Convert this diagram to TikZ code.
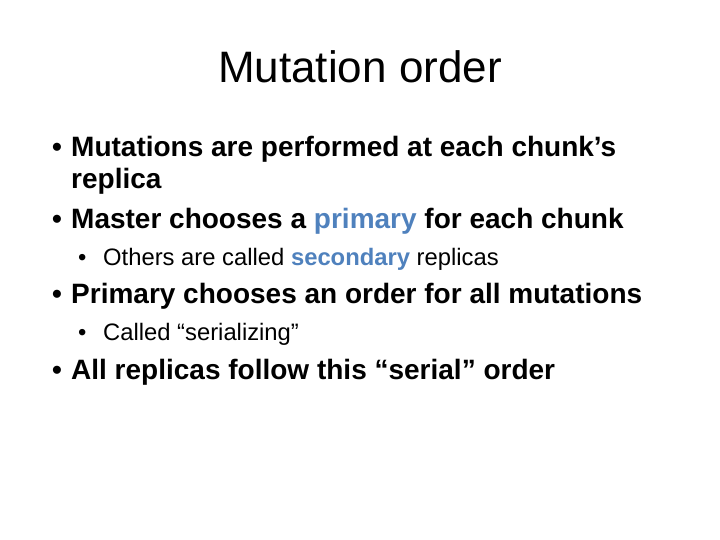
\documentclass[tikz,border=0pt]{standalone}
\usepackage{fontspec}
\setmainfont{Liberation Sans}
\definecolor{accent}{HTML}{4F81BD}
\begin{document}
\begin{tikzpicture}[x=1pt,y=-1pt,
  lvlone/.style={anchor=base west,inner sep=0pt,font=\fontsize{28}{33}\selectfont\bfseries},
  lvltwo/.style={anchor=base west,inner sep=0pt,font=\fontsize{23.8}{28}\selectfont}]
\useasboundingbox (0,0) rectangle (720,540);
\node[anchor=base,inner sep=0pt,font=\fontsize{44}{50}\selectfont] (title) at (360,83) {Mutation order};
% first level bullets
\node[lvlone] (d1) at (52,157) {•};
\node[lvlone] (b1) at (71,157) {Mutations are performed at each chunk’s};
\node[lvlone] (b1b) at (71,189) {replica};
\node[lvlone] (d2) at (52,229) {•};
\node[lvlone] (b2) at (71,229) {Master chooses a \textcolor{accent}{primary} for each chunk};
\node[lvltwo] (d3) at (78,265) {•};
\node[lvltwo] (s1) at (103,265) {Others are called \textcolor{accent}{\bfseries secondary} replicas};
\node[lvlone] (d4) at (52,303) {•};
\node[lvlone] (b3) at (71,303) {Primary chooses an order for all mutations};
\node[lvltwo] (d5) at (78,340) {•};
\node[lvltwo] (s2) at (103,340) {Called “serializing”};
\node[lvlone] (d6) at (52,379) {•};
\node[lvlone] (b4) at (71,379) {All replicas follow this “serial” order};
\end{tikzpicture}
\end{document}
